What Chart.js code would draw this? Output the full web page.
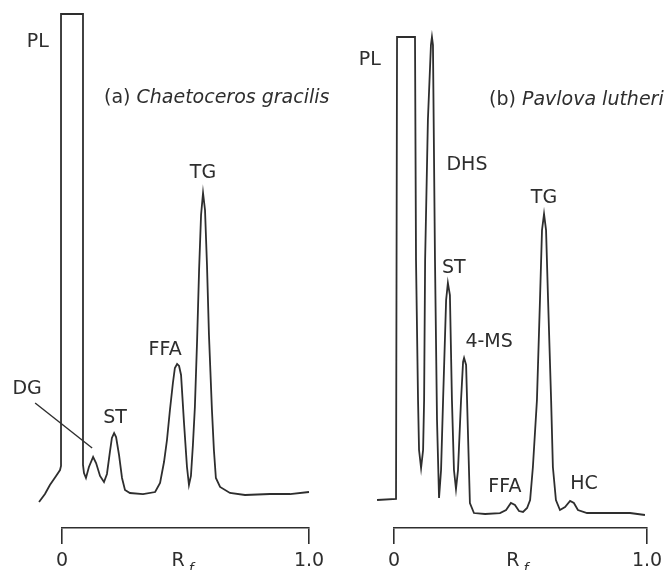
<!DOCTYPE html>
<html>
<head>
<meta charset="utf-8">
<script src="https://cdn.jsdelivr.net/npm/chart.js@4.4.0/dist/chart.umd.min.js"></script>
<style>
html,body{margin:0;padding:0;background:#fff;overflow:hidden}
#wrap{position:relative;width:664px;height:570px}
canvas{position:absolute;left:0;top:0}
</style>
</head>
<body>
<div id="wrap">
<canvas id="chartA" width="664" height="570"></canvas>
<canvas id="chartB" width="664" height="570"></canvas>
</div>
<script>
// ---------- Panel (a) Chaetoceros gracilis ----------
const rfA = [-0.093,-0.069,-0.049,-0.024,-0.008,-0.004,-0.004,0.085,0.085,0.089,0.097,0.109,0.126,0.138,0.154,0.170,0.182,0.194,0.202,0.211,0.219,0.231,0.243,0.255,0.275,0.328,0.377,0.397,0.413,0.425,0.437,0.449,0.457,0.466,0.474,0.482,0.494,0.506,0.514,0.522,0.530,0.538,0.547,0.555,0.563,0.571,0.579,0.587,0.595,0.607,0.615,0.623,0.640,0.680,0.741,0.842,0.923,1.000];
const signalA = [5.06,6.61,8.37,10.12,11.28,12.06,100,100,12.26,10.70,9.73,11.87,13.81,12.65,10.12,8.95,10.51,14.79,17.51,18.48,17.70,14.20,9.73,7.39,6.81,6.61,7.00,8.75,12.84,17.12,22.96,28.21,31.13,31.91,31.52,29.77,20.43,11.87,8.37,10.12,16.15,23.54,36.58,50.19,60.89,65.18,61.87,51.17,37.55,23.00,15.18,9.73,7.98,6.81,6.42,6.61,6.61,7.00];
const peakNamesA = ['PL','DG','ST','FFA','TG'];
const peakRfA = [0.040,0.126,0.211,0.466,0.571];
const peakHeightA = [100,13.81,18.48,31.91,65.18];
const titleA = ['(a) ','Chaetoceros gracilis'];

// ---------- Panel (b) Pavlova lutheri ----------
const rfB = [-0.067,0.008,0.012,0.083,0.087,0.095,0.099,0.107,0.115,0.119,0.123,0.134,0.146,0.150,0.154,0.162,0.170,0.178,0.186,0.194,0.206,0.213,0.221,0.229,0.237,0.245,0.253,0.265,0.273,0.277,0.285,0.292,0.300,0.316,0.360,0.419,0.443,0.462,0.478,0.494,0.510,0.526,0.538,0.549,0.565,0.577,0.585,0.593,0.601,0.609,0.621,0.628,0.640,0.656,0.676,0.696,0.711,0.727,0.763,0.854,0.933,0.992];
const signalB = [5.70,5.91,100,100,54.58,26.07,15.89,12.22,15.89,26.07,54.58,83.10,98.37,100,98.37,54.58,22.00,6.11,11.81,26.07,46.44,49.90,47.45,26.07,11.81,7.94,11.81,26.07,33.81,34.62,33.20,19.96,5.09,3.05,2.85,3.05,3.67,5.09,4.68,3.46,3.26,4.07,5.70,12.42,26.07,46.44,60.69,63.95,60.69,46.44,26.07,12.42,5.70,3.67,4.28,5.50,5.09,3.67,3.05,3.05,3.05,2.65];
const peakNamesB = ['PL','DHS','ST','4-MS','FFA','TG','HC'];
const peakRfB = [0.047,0.150,0.213,0.277,0.462,0.593,0.696];
const peakHeightB = [100,100,49.90,34.62,5.09,63.95,5.50];
const titleB = ['(b) ','Pavlova lutheri'];

// ---------- Axis ----------
const tickValues = [0, 1];
const tickLabels = ['0', '1.0'];
const axisTitle = ['R', 'f'];

const INK = '#2e2e2e';
const FONT = '"DejaVu Sans", "Liberation Sans", sans-serif';

const annotate = {
  id: 'annotate',
  afterDatasetsDraw(chart, args, o) {
    const ctx = chart.ctx, xs = chart.scales.x, ys = chart.scales.y, ca = chart.chartArea;
    ctx.save();
    ctx.fillStyle = INK;
    ctx.strokeStyle = INK;
    ctx.textBaseline = 'middle';
    ctx.textAlign = 'center';
    ctx.font = '19px ' + FONT;
    o.names.forEach((n, i) => {
      const px = xs.getPixelForValue(o.rf[i]) + o.dx[i];
      const py = ys.getPixelForValue(o.h[i]) + o.dy[i];
      ctx.fillText(n, px, py);
    });
    (o.leaders || []).forEach(l => {
      const ax = xs.getPixelForValue(o.rf[l.i]), ay = ys.getPixelForValue(o.h[l.i]);
      ctx.lineWidth = 1.4;
      ctx.beginPath();
      ctx.moveTo(ax + l.x0, ay + l.y0);
      ctx.lineTo(ax + l.x1, ay + l.y1);
      ctx.stroke();
    });
    ctx.textAlign = 'left';
    ctx.font = '19px ' + FONT;
    const tx = ca.left + o.titleDx, ty = ca.top + o.titleDy;
    ctx.fillText(o.title[0], tx, ty);
    const w = ctx.measureText(o.title[0]).width;
    ctx.font = 'italic 19px ' + FONT;
    ctx.fillText(o.title[1], tx + w, ty);
    ctx.textAlign = 'center';
    ctx.font = '19px ' + FONT;
    const rx = xs.getPixelForValue(0.47), ry = ca.bottom + 33;
    ctx.fillText(axisTitle[0], rx, ry);
    ctx.font = 'italic 14px ' + FONT;
    ctx.fillText(axisTitle[1], rx + 13, ry + 8);
    ctx.restore();
  }
};

function makeChart(id, rf, sig, area, ann) {
  return new Chart(document.getElementById(id), {
    type: 'line',
    data: {
      datasets: [{
        data: rf.map((x, i) => ({ x: x, y: sig[i] })),
        borderColor: INK,
        borderWidth: 1.8,
        pointRadius: 0,
        tension: 0,
        fill: false,
        clip: false
      }]
    },
    options: {
      responsive: false,
      animation: false,
      devicePixelRatio: 1,
      layout: { padding: { left: area.left, right: 664 - area.right, top: area.top, bottom: 0 } },
      plugins: { legend: { display: false }, tooltip: { enabled: false }, annotate: ann },
      scales: {
        x: {
          type: 'linear',
          afterDataLimits: s => { s.min = 0; s.max = 1; },
          afterBuildTicks: s => { s.ticks = tickValues.map(v => ({ value: v })); },
          afterFit: s => { s.height = 42; s.paddingLeft = 0; s.paddingRight = 0; },
          grid: { drawOnChartArea: false, drawTicks: true, tickLength: 16, color: INK, lineWidth: 1.6 },
          border: { display: true, color: INK, width: 1.6 },
          ticks: {
            callback: (v, i) => tickLabels[i],
            font: { family: FONT, size: 19 }, color: INK,
            padding: 6, maxRotation: 0, autoSkip: false
          }
        },
        y: { type: 'linear', display: false, min: 0, max: 100 }
      }
    },
    plugins: [annotate]
  });
}

makeChart('chartA', rfA, signalA, { left: 62, right: 309, top: 14 }, {
  names: peakNamesA, rf: peakRfA, h: peakHeightA,
  dx: [-34, -66, 1, -12, 0], dy: [28, -68, -15, -14, -20],
  leaders: [{ i: 1, x0: -58, y0: -54, x1: -1, y1: -9 }],
  title: titleA, titleDx: 42, titleDy: 84
});

makeChart('chartB', rfB, signalB, { left: 394, right: 647, top: 37 }, {
  names: peakNamesB, rf: peakRfB, h: peakHeightB,
  dx: [-36, 35, 6, 25, -6, 0, 14], dy: [23, 128, -15, -16, -16, -16, -17],
  title: titleB, titleDx: 95, titleDy: 63
});
</script>
</body>
</html>
